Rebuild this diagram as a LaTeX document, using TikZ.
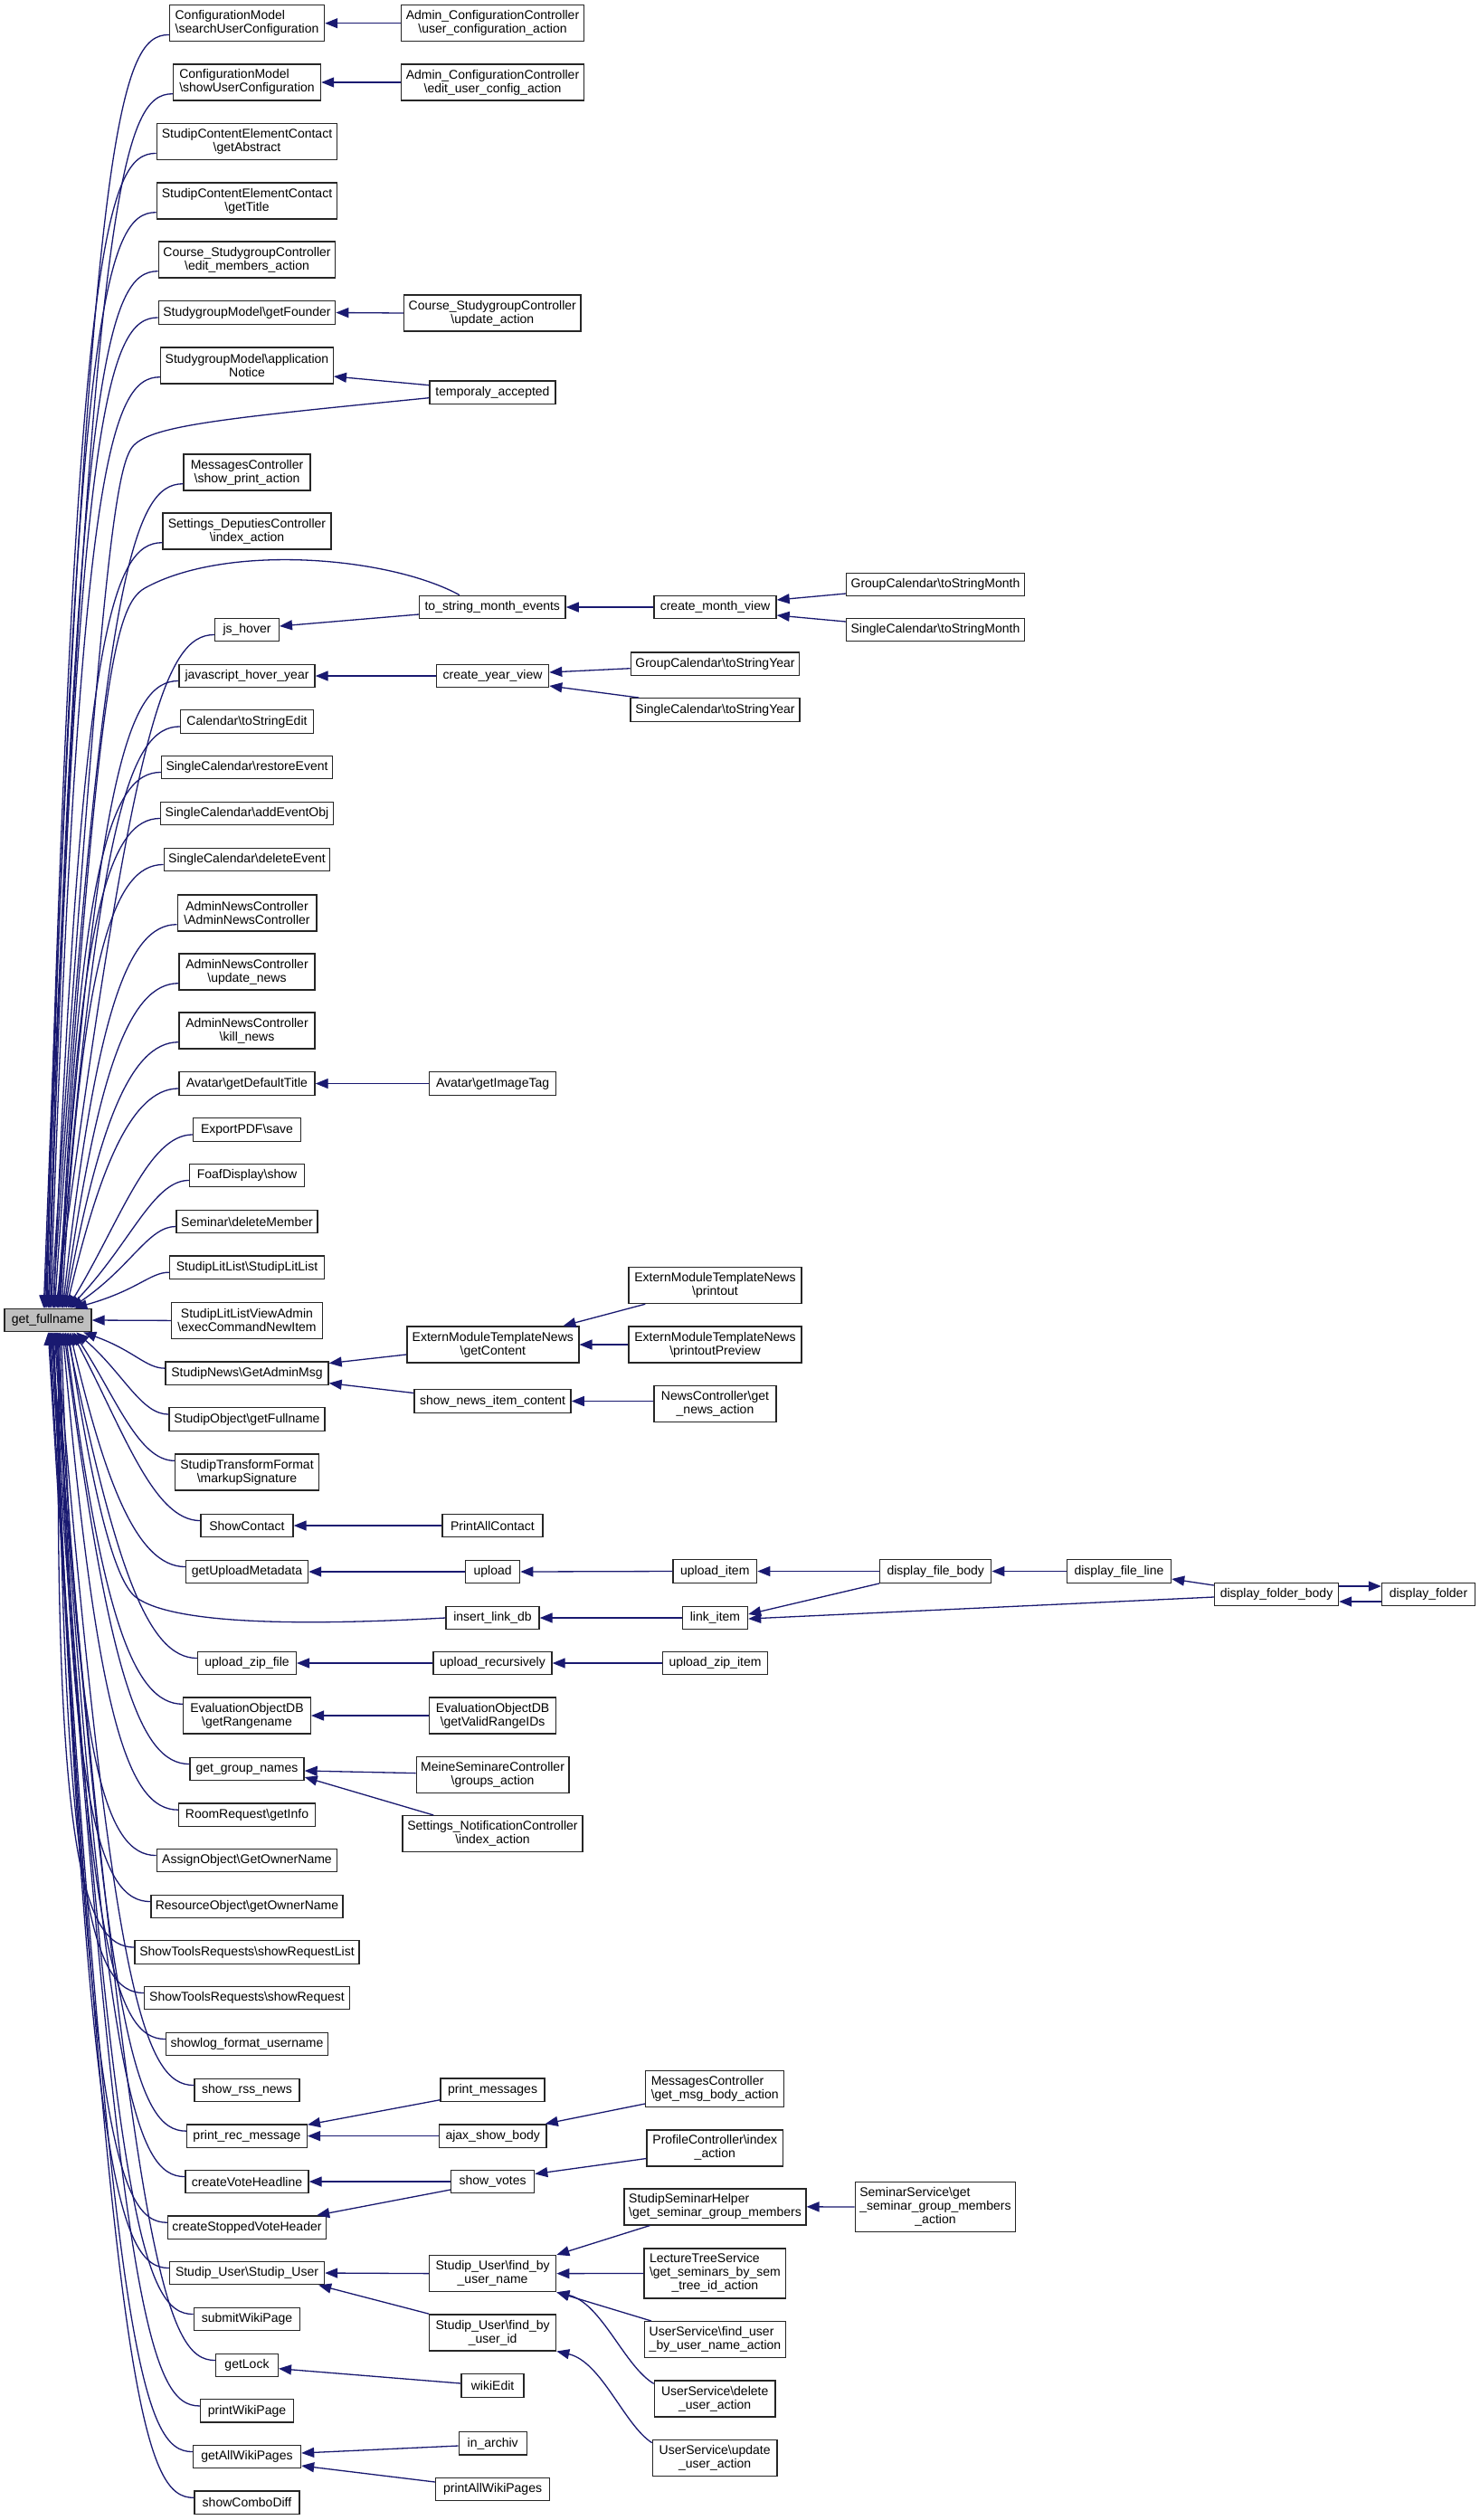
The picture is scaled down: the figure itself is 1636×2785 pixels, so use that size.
\documentclass[tikz,border=0pt]{standalone}
\usepackage{fontspec}
\setmainfont{Liberation Sans}
\usetikzlibrary{arrows.meta,calc}
\definecolor{mblue}{RGB}{25,25,112}
\newcommand\bs{\textbackslash}
\newcommand\fsz{\fontsize{7}{7.5}\selectfont}
\newcommand\lcx[2]{\begin{tabular}{@{}l@{}}#1\\\multicolumn{1}{@{}c@{}}{#2}\end{tabular}}
\newcommand\llcx[3]{\begin{tabular}{@{}l@{}}#1\\#2\\\multicolumn{1}{@{}c@{}}{#3}\end{tabular}}
\newcommand\mynode[6]{\node[box,l#5,minimum width={#4*0.5pt}] (#1) at (#2,-#3) {#6};}
\begin{document}
\begin{tikzpicture}[x=0.5pt,y=0.5pt,
 box/.style={draw=black!85,fill=white,line width=0.7pt,inner xsep=2.5pt,inner ysep=0pt,align=center,font=\fsz},
 l1/.style={minimum height=12.75pt},
 l2/.style={minimum height=20pt},
 l3/.style={minimum height=27.5pt},
 edge/.style={draw=mblue,line width=0.65pt,-{Triangle[length=7pt,width=5.5pt]}},
]
\fill[white] (0,0) rectangle (1636,-2785);
\useasboundingbox (0,0) rectangle (1636,-2785);

% column 1
\mynode{cmsearch}{273}{25.7}{171}{2}{\lcx{ConfigurationModel}{\bs searchUserConfiguration}}
\mynode{cmshow}{273}{91}{163}{2}{\lcx{ConfigurationModel}{\bs showUserConfiguration}}
\mynode{scecabs}{273}{156.7}{199.5}{2}{StudipContentElementContact\\\bs getAbstract}
\mynode{scectitle}{273}{222}{199.5}{2}{StudipContentElementContact\\\bs getTitle}
\mynode{cscedit}{273}{287}{194}{2}{Course\_StudygroupController\\\bs edit\_members\_action}
\mynode{sgmfounder}{273}{345.5}{192}{1}{StudygroupModel\bs getFounder}
\mynode{sgmnotice}{273}{404}{189.5}{2}{StudygroupModel\bs application\\Notice}
\mynode{msgprint}{273}{522}{140}{2}{MessagesController\\\bs show\_print\_action}
\mynode{sdcindex}{273}{587}{186}{2}{Settings\_DeputiesController\\\bs index\_action}
\mynode{jshover}{273}{696}{70.6}{1}{js\_hover}
\mynode{jhy}{273}{747}{150}{1}{javascript\_hover\_year}
\mynode{caledit}{273}{797.5}{147}{1}{Calendar\bs toStringEdit}
\mynode{screstore}{273}{848}{188}{1}{SingleCalendar\bs restoreEvent}
\mynode{scadd}{273}{899}{190}{1}{SingleCalendar\bs addEventObj}
\mynode{scdelete}{273}{950}{183.5}{1}{SingleCalendar\bs deleteEvent}
\mynode{ancanc}{273}{1009}{153.6}{2}{AdminNewsController\\\bs AdminNewsController}
\mynode{ancupdate}{273}{1074}{150}{2}{AdminNewsController\\\bs update\_news}
\mynode{anckill}{273}{1139}{150}{2}{AdminNewsController\\\bs kill\_news}
\mynode{avtitle}{273}{1197.5}{150}{1}{Avatar\bs getDefaultTitle}
\mynode{pdfsave}{273}{1248.5}{119}{1}{ExportPDF\bs save}
\mynode{foaf}{273}{1299}{127}{1}{FoafDisplay\bs show}
\mynode{semdel}{273}{1350}{156}{1}{Seminar\bs deleteMember}
\mynode{sll}{273}{1400.7}{171}{1}{StudipLitList\bs StudipLitList}
\node[box,l1,minimum width=48pt,fill=black!25] (gfn) at (53,-1459) {get\_fullname};
\mynode{sllva}{273}{1459.4}{166.7}{2}{StudipLitListViewAdmin\\\bs execCommandNewItem}
\mynode{snadmin}{273}{1517.6}{180}{1}{StudipNews\bs GetAdminMsg}
\mynode{sofull}{273}{1568.5}{172}{1}{StudipObject\bs getFullname}
\mynode{stf}{273}{1627}{159}{2}{StudipTransformFormat\\\bs markupSignature}
\mynode{showcontact}{273}{1686}{102}{1}{ShowContact}
\mynode{gum}{273}{1737}{135}{1}{getUploadMetadata}
\mynode{uzf}{273}{1838}{108.6}{1}{upload\_zip\_file}
\mynode{eodbrange}{273}{1896}{140.6}{2}{EvaluationObjectDB\\\bs getRangename}
\mynode{ggn}{273}{1955}{126}{1}{get\_group\_names}
\mynode{rrinfo}{273}{2005.6}{151}{1}{RoomRequest\bs getInfo}
\mynode{aoowner}{273}{2056}{199.5}{1}{AssignObject\bs GetOwnerName}
\mynode{roowner}{273}{2107}{210.5}{1}{ResourceObject\bs getOwnerName}
\mynode{strlist}{273}{2157.5}{248}{1}{ShowToolsRequests\bs showRequestList}
\mynode{strreq}{273}{2208}{227}{1}{ShowToolsRequests\bs showRequest}
\mynode{showlog}{273}{2259}{179}{1}{showlog\_format\_username}
\mynode{rss}{273}{2310}{116}{1}{show\_rss\_news}
\mynode{prm}{273}{2360.6}{132.6}{1}{print\_rec\_message}
\mynode{cvh}{273}{2411}{136}{1}{createVoteHeadline}
\mynode{csvh}{273}{2461.7}{174.7}{1}{createStoppedVoteHeader}
\mynode{susu}{273}{2512}{171}{1}{Studip\_User\bs Studip\_User}
\mynode{submit}{273}{2563}{117.4}{1}{submitWikiPage}
\mynode{getlock}{273}{2614}{68.6}{1}{getLock}
\mynode{printwiki}{273}{2664.4}{103}{1}{printWikiPage}
\mynode{gawp}{273}{2715}{119}{1}{getAllWikiPages}
\mynode{combo}{273}{2765.8}{116}{1}{showComboDiff}

% column 2
\mynode{accuser}{544.5}{25.7}{199}{2}{Admin\_ConfigurationController\\\bs user\_configuration\_action}
\mynode{accedit}{544.5}{91}{199}{2}{Admin\_ConfigurationController\\\bs edit\_user\_config\_action}
\mynode{cscupdate}{544.3}{346}{193}{2}{Course\_StudygroupController\\\bs update\_action}
\mynode{temporaly}{544.5}{433.7}{139}{1}{temporaly\_accepted}
\mynode{tsme}{544.3}{671}{161.5}{1}{to\_string\_month\_events}
\mynode{cyv}{544.6}{747}{124}{1}{create\_year\_view}
\mynode{avimg}{544.6}{1197.5}{140}{1}{Avatar\bs getImageTag}
\mynode{emtnget}{544.8}{1486}{190}{2}{ExternModuleTemplateNews\\\bs getContent}
\mynode{snic}{544.6}{1548.5}{173}{1}{show\_news\_item\_content}
\mynode{pac}{544.4}{1686}{111}{1}{PrintAllContact}
\mynode{upload}{544.6}{1737}{60}{1}{upload}
\mynode{ild}{544.5}{1788}{103}{1}{insert\_link\_db}
\mynode{ur}{544.5}{1838}{131}{1}{upload\_recursively}
\mynode{eodbvalid}{544.6}{1896}{140}{2}{EvaluationObjectDB\\\bs getValidRangeIDs}
\mynode{mscgroups}{544.6}{1961.6}{168}{2}{MeineSeminareController\\\bs groups\_action}
\mynode{sncindex}{544.5}{2026.7}{199}{2}{Settings\_NotificationController\\\bs index\_action}
\mynode{printmsgs}{544.6}{2309.7}{115}{1}{print\_messages}
\mynode{ajax}{544.7}{2360.6}{118.7}{1}{ajax\_show\_body}
\mynode{showvotes}{544.6}{2411}{92}{1}{show\_votes}
\mynode{suname}{544.6}{2512.6}{140}{2}{Studip\_User\bs find\_by\\\_user\_name}
\mynode{suid}{544.6}{2577.8}{140}{2}{Studip\_User\bs find\_by\\\_user\_id}
\mynode{wikiedit}{544.6}{2636.5}{69}{1}{wikiEdit}
\mynode{inarchiv}{544.7}{2700.3}{75}{1}{in\_archiv}
\mynode{pawp}{544.6}{2751}{126}{1}{printAllWikiPages}

% column 3
\mynode{cmv}{790.5}{671}{135}{1}{create\_month\_view}
\mynode{gcyear}{790.5}{733.7}{186}{1}{GroupCalendar\bs toStringYear}
\mynode{scyear}{790.5}{784.5}{187}{1}{SingleCalendar\bs toStringYear}
\mynode{emtnprint}{790.5}{1420.5}{191}{2}{ExternModuleTemplateNews\\\bs printout}
\mynode{emtnprev}{790.5}{1486}{191}{2}{ExternModuleTemplateNews\\\bs printoutPreview}
\mynode{ncget}{790.5}{1551.3}{135}{2}{NewsController\bs get\\\_news\_action}
\mynode{uploaditem}{790.3}{1736.5}{92.6}{1}{upload\_item}
\mynode{linkitem}{790.5}{1788}{72}{1}{link\_item}
\mynode{uzi}{790.5}{1838}{116}{1}{upload\_zip\_item}
\mynode{mcbody}{790.2}{2308.5}{153}{2}{\lcx{MessagesController}{\bs get\_msg\_body\_action}}
\mynode{pcindex}{790.3}{2373.8}{150.7}{2}{\lcx{ProfileController\bs index}{\_action}}
\mynode{ssh}{790.5}{2438.8}{197.5}{2}{\lcx{StudipSeminarHelper}{\bs get\_seminar\_group\_members}}
\mynode{lts}{790.4}{2512.5}{156.7}{3}{\llcx{LectureTreeService}{\bs get\_seminars\_by\_sem}{\_tree\_id\_action}}
\mynode{usfind}{790.5}{2585.7}{155.6}{2}{\lcx{UserService\bs find\_user}{\_by\_user\_name\_action}}
\mynode{usdelete}{790.2}{2651}{133.6}{2}{UserService\bs delete\\\_user\_action}
\mynode{usupdate}{790.2}{2716.3}{137.7}{2}{UserService\bs update\\\_user\_action}

% column 4+
\mynode{gcmonth}{1034}{646}{195}{1}{GroupCalendar\bs toStringMonth}
\mynode{scmonth}{1034}{696}{195}{1}{SingleCalendar\bs toStringMonth}
\mynode{dfbody}{1034.2}{1736.5}{123}{1}{display\_file\_body}
\mynode{ssget}{1034}{2439}{174.5}{3}{\llcx{SeminarService\bs get}{\_seminar\_group\_members}{\_action}}
\mynode{dfline}{1237}{1736.5}{115}{1}{display\_file\_line}
\mynode{dfb}{1411}{1762}{137}{1}{display\_folder\_body}
\mynode{dfolder}{1579}{1762}{103}{1}{display\_folder}

% curves into get_fullname
\foreach \nm/\dd in {cmsearch/44, cmshow/45, scecabs/46.5, scectitle/47.5, cscedit/49, sgmfounder/50, sgmnotice/51.5, msgprint/54, sdcindex/55, jshover/57.5, jhy/59, caledit/60, screstore/61.5, scadd/62.5, scdelete/64, ancanc/65, ancupdate/66.5, anckill/67.5, avtitle/69, pdfsave/70.5, foaf/72, semdel/74, sll/78}{
  \draw[edge] let \p1=($(\nm.south west)+(0,8)$), \p2=($(gfn.north west)+(\dd,0)$),
     \n1={max(-50,min(50,0.5*(\y2-\y1)))}, \n2={min(1,0.25+abs(\y2-\y1)/150)} in
     (\p1) .. controls ($(\p1)+({-27.5*\n2*1pt},0pt)$) and ($(\p1)+({-45*\n2*1pt},{\n1*1pt})$) .. (\p2);
}
\foreach \nm/\dd in {snadmin/88, sofull/80, stf/77, showcontact/75, gum/73, uzf/69.5, eodbrange/68, ggn/66.5, rrinfo/65, aoowner/63.5, roowner/62, strlist/61, strreq/60, showlog/59, rss/58, prm/57, cvh/56, csvh/55, susu/54, submit/53, getlock/52, printwiki/51, gawp/50, combo/49}{
  \draw[edge] let \p1=($(\nm.north west)+(0,-8)$), \p2=($(gfn.south west)+(\dd,0)$),
     \n1={max(-50,min(50,0.5*(\y2-\y1)))}, \n2={min(1,0.25+abs(\y2-\y1)/150)} in
     (\p1) .. controls ($(\p1)+({-27.5*\n2*1pt},0pt)$) and ($(\p1)+({-45*\n2*1pt},{\n1*1pt})$) .. (\p2);
}
\draw[edge] (sllva.west) -- (gfn.east);
\draw[edge] ($(temporaly.west)+(0,-6)$) .. controls (250,-462) and (170,-470) .. (148,-492) .. controls (128,-512) and (112,-620) .. ($(gfn.north west)+(52,0)$);
\draw[edge] ($(tsme.north west)+(45,0)$) .. controls (430,-615) and (250,-600) .. (160,-650) .. controls (125,-670) and (108,-760) .. ($(gfn.north west)+(56,0)$);
\draw[edge] (ild.west) .. controls (330,-1797) and (190,-1795) .. (150,-1765) .. controls (120,-1742) and (95,-1600) .. ($(gfn.south west)+(71,0)$);

% other edges
\draw[edge] (accuser.west) -- (cmsearch.east);
\draw[edge] (accedit.west) -- (cmshow.east);
\draw[edge] (cscupdate.west) -- (sgmfounder.east);
\draw[edge] ($(temporaly.west)+(0,8)$) -- ($(sgmnotice.east)+(0,-12)$);
\draw[edge] ($(tsme.west)+(0,-8)$) -- ($(jshover.east)+(0,4)$);
\draw[edge] (cmv.west) -- (tsme.east);
\draw[edge] ($(gcmonth.west)+(0,-10)$) -- ($(cmv.east)+(0,8)$);
\draw[edge] ($(scmonth.west)+(0,9)$) -- ($(cmv.east)+(0,-9)$);
\draw[edge] (cyv.west) -- (jhy.east);
\draw[edge] ($(gcyear.west)+(0,-5)$) -- ($(cyv.east)+(0,4)$);
\draw[edge] ($(scyear.north west)+(10,0)$) -- ($(cyv.east)+(0,-11)$);
\draw[edge] (avimg.west) -- (avtitle.east);
\draw[edge] ($(emtnprint.south west)+(19,0)$) -- ($(emtnget.north east)+(-18,0)$);
\draw[edge] (emtnprev.west) -- (emtnget.east);
\draw[edge] ($(emtnget.west)+(0,-11)$) -- ($(snadmin.east)+(0,11)$);
\draw[edge] ($(snic.west)+(0,9)$) -- ($(snadmin.east)+(0,-11)$);
\draw[edge] (ncget.west |- snic.east) -- (snic.east);
\draw[edge] (pac.west) -- (showcontact.east);
\draw[edge] (upload.west) -- (gum.east);
\draw[edge] (uploaditem.west) -- (upload.east);
\draw[edge] (dfbody.west) -- (uploaditem.east);
\draw[edge] (dfline.west) -- (dfbody.east);
\draw[edge] ($(dfb.west)+(0,10)$) -- ($(dfline.east)+(0,-8.5)$);
\draw[edge] (dfbody.south west) -- ($(linkitem.east)+(0,4)$);
\draw[edge] ($(dfb.west)+(0,-3)$) -- ($(linkitem.east)+(0,-1)$);
\draw[edge] ($(dfb.east)+(0,9)$) -- ($(dfolder.west)+(0,9)$);
\draw[edge] ($(dfolder.west)+(0,-8)$) -- ($(dfb.east)+(0,-8)$);
\draw[edge] (linkitem.west) -- (ild.east);
\draw[edge] (ur.west) -- (uzf.east);
\draw[edge] (uzi.west) -- (ur.east);
\draw[edge] (eodbvalid.west) -- (eodbrange.east);
\draw[edge] ($(mscgroups.west)+(0,2)$) -- ($(ggn.east)+(0,-2)$);
\draw[edge] ($(sncindex.north west)+(35,0)$) -- ($(ggn.east)+(0,-9)$);
\draw[edge] ($(printmsgs.west)+(0,-11)$) -- ($(prm.north east)+(0,-1)$);
\draw[edge] (ajax.west) -- (prm.east);
\draw[edge] ($(mcbody.west)+(0,-16.5)$) -- ($(ajax.north east)+(-2,0)$);
\draw[edge] (showvotes.west) -- (cvh.east);
\draw[edge] ($(showvotes.west)+(0,-9)$) -- ($(csvh.north east)+(-11,0)$);
\draw[edge] ($(pcindex.west)+(0,-11.7)$) -- ($(showvotes.east)+(0,8.5)$);
\draw[edge] (ssget.west) -- (ssh.east);
\draw[edge] (suname.west) -- (susu.east);
\draw[edge] (suid.north west) -- ($(susu.south east)+(-7,0)$);
\draw[edge] ($(ssh.south west)+(29,0)$) -- (suname.north east);
\draw[edge] (lts.west) -- (suname.east);
\draw[edge] ($(usfind.north west)+(8,0)$) -- (suname.south east);
\draw[edge] ($(usdelete.north west)+(0,-4)$) .. controls (690,-2615) and (665,-2545) .. (suname.south east);
\draw[edge] ($(usupdate.north west)+(0,-4)$) .. controls (690,-2680) and (665,-2610) .. (suid.south east);
\draw[edge] ($(wikiedit.west)+(0,2.5)$) -- ($(getlock.east)+(0,-3.7)$);
\draw[edge] ($(inarchiv.west)+(0,-2.7)$) -- ($(gawp.east)+(0,4)$);
\draw[edge] ($(pawp.west)+(0,8)$) -- ($(gawp.east)+(0,-10)$);
\end{tikzpicture}
\end{document}
